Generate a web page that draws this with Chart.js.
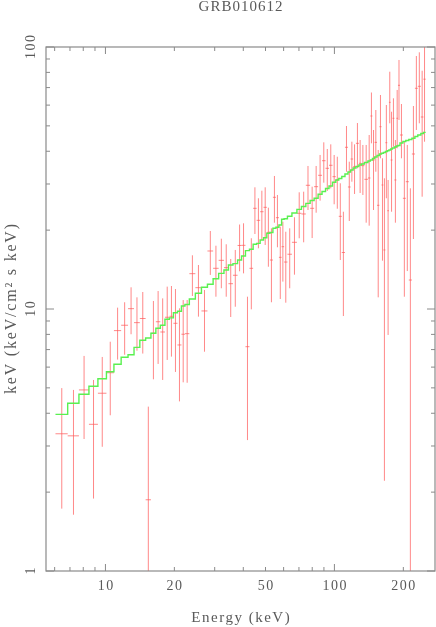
<!DOCTYPE html>
<html>
<head>
<meta charset="utf-8">
<title>GRB010612</title>
<script src="https://cdn.jsdelivr.net/npm/chart.js@4.4.0/dist/chart.umd.min.js"></script>
<style>
    body { margin: 0; background: #fff; }
    .chart_box { width: 436px; height: 627px; position: relative; }
</style>
</head>
<body>
<div class="chart_box"><canvas id="spectrum"></canvas></div>
<script>
// channel bin edges (keV), one more than the number of points
const binEdges = [
    6.05, 6.84, 7.66, 8.47, 9.27, 10.10, 10.89, 11.71, 12.55, 13.33,
    14.13, 14.98, 15.80, 16.60, 17.37, 18.19, 19.03, 19.81, 20.63, 21.47,
    22.24, 23.25, 24.70, 26.26, 27.89, 29.53, 31.22, 32.93, 34.45, 36.05,
    37.76, 39.31, 40.88, 42.56, 44.16, 45.75, 47.38, 49.03, 50.68, 52.28,
    53.88, 55.53, 57.24, 58.81, 60.30, 62.35, 65.23, 68.59, 71.78, 75.02,
    78.33, 81.55, 84.89, 88.29, 91.45, 94.72, 98.1, 101.4, 104.5, 107.7,
    111.2, 114.6, 117.7, 120.7, 124.2, 127.9, 131.1, 135.2, 140.1, 143.6,
    146.6, 149.8, 153.5, 157.2, 160.6, 163.7, 167.0, 170.2, 173.0, 176.0,
    179.3, 182.8, 186.5, 189.5, 193.4, 199.1, 205.0, 211.3, 218.0, 224.7,
    231.3, 238.5, 244.8, 250.3
];

// E F(E) in keV (keV/cm2 s keV)
const flux = [
    3.34, 3.28, 4.91, 3.63, 4.77, 5.71, 8.27, 8.67, 10.03, 8.87,
    9.20, 1.87, 8.08, 8.94, 8.17, 9.30, 9.38, 8.82, 7.29, 8.01,
    8.05, 13.64, 12.06, 9.83, 16.65, 14.30, 15.34, 14.38, 12.49, 13.45,
    17.48, 17.50, 7.18, 14.30, 24.23, 21.80, 23.51, 24.44, 19.62, 15.38,
    26.69, 22.31, 15.75, 17.29, 15.11, 16.18, 17.97, 23.19, 23.05, 29.66,
    24.23, 29.30, 32.38, 36.81, 34.44, 35.36, 31.99, 31.08, 22.58, 16.43,
    41.42, 29.22, 37.36, 34.92, 42.89, 35.98, 35.24, 31.26, 31.62, 54.53,
    37.04, 43.27, 24.88, 49.63, 29.74, 16.80, 43.12, 23.72, 61.50, 37.04,
    53.45, 31.08, 53.45, 71.42, 46.14, 26.46, 30.61, 12.90, 39.05, 69.57,
    70.79, 54.06, 75.36
];

const fluxHigh = [
    4.99, 4.91, 6.62, 5.36, 6.56, 7.50, 10.12, 10.61, 12.10, 11.08,
    11.61, 4.24, 10.73, 11.71, 10.98, 12.17, 12.24, 11.92, 10.06, 10.82,
    10.82, 16.03, 14.72, 11.82, 19.85, 17.44, 18.55, 17.66, 15.52, 16.80,
    21.01, 21.24, 11.14, 18.62, 29.14, 26.46, 28.28, 29.14, 24.36, 20.32,
    32.19, 27.24, 20.61, 21.54, 19.72, 20.32, 22.39, 27.89, 28.04, 35.14,
    29.30, 35.14, 38.71, 43.27, 40.80, 42.51, 38.71, 38.13, 30.19, 23.51,
    49.94, 36.49, 43.50, 42.51, 51.27, 44.16, 42.27, 42.27, 46.14, 67.04,
    48.22, 57.48, 40.45, 65.59, 37.60, 31.54, 60.06, 31.08, 80.48, 56.62,
    63.71, 44.16, 68.54, 89.22, 60.59, 43.50, 42.27, 28.88, 59.54, 92.38,
    95.45, 81.18, 120
];

const fluxLow = [
    1.73, 1.64, 3.19, 1.89, 2.98, 3.93, 6.41, 6.69, 8.01, 6.93,
    6.76, 0.3, 5.39, 6.17, 5.36, 6.39, 6.58, 5.75, 4.44, 5.25,
    5.23, 11.21, 9.35, 6.87, 13.49, 11.14, 12.00, 11.14, 9.32, 10.20,
    13.93, 13.68, 3.16, 9.97, 19.33, 17.05, 18.34, 17.55, 14.50, 10.61,
    21.35, 17.20, 10.92, 12.72, 10.57, 12.00, 13.52, 18.62, 17.97, 23.87,
    18.66, 23.31, 25.91, 30.35, 28.21, 28.88, 25.10, 24.14, 15.38, 9.40,
    33.42, 21.67, 30.61, 27.48, 34.44, 27.72, 27.24, 21.35, 20.80, 42.89,
    23.87, 33.42, 11.08, 37.60, 15.29, 2.21, 26.46, 7.96, 51.14, 23.51,
    41.64, 21.35, 41.06, 52.64, 37.60, 11.14, 13.96, 0.3, 18.50, 48.22,
    51.14, 26.83, 43.50
];

// folded model, one value per bin
const model = [
    3.96, 4.37, 4.73, 5.07, 5.42, 5.76, 6.15, 6.54, 6.69, 7.14,
    7.60, 7.75, 8.08, 8.44, 8.67, 9.14, 9.25, 9.68, 9.80, 10.27,
    10.4, 10.92, 11.48, 12.10, 12.43, 13.05, 13.68, 14.09, 14.72, 14.9,
    15.38, 15.93, 16.70, 16.9, 17.66, 17.8, 18.34, 18.71, 19.45, 19.6,
    20.32, 20.5, 20.92, 22.00, 22.1, 22.6, 23.25, 24.0, 24.61, 25.31,
    25.95, 26.46, 27.41, 28.09, 28.84, 29.48, 30.45, 31.08, 31.49, 32.05,
    32.76, 33.34, 33.93, 34.53, 34.99, 35.45, 35.77, 36.24, 36.72, 37.04,
    37.53, 38.04, 38.54, 39.05, 39.29, 39.57, 39.91, 40.17, 40.45, 40.80,
    41.16, 41.52, 41.89, 42.07, 43.01, 43.59, 43.97, 44.36, 44.83, 45.55,
    46.14, 46.75, 47.24
];

const xMajorTicks = [10, 100];
const xMinorTicks = [6, 7, 8, 9, 20, 30, 40, 50, 60, 70, 80, 90, 200];
const xTickLabels = [10, 20, 50, 100, 200];
const yMajorTicks = [1, 10, 100];
const yMinorTicks = [2, 3, 4, 5, 6, 7, 8, 9, 20, 30, 40, 50, 60, 70, 80, 90];
const yTickLabels = [1, 10, 100];

const FONT = '"Liberation Serif", "DejaVu Serif", serif';
const TEXT_COLOR = '#5a5a5a';
const AXIS_COLOR = '#8a8a8a';

const points = flux.map((f, i) => ({
    x: (binEdges[i] + binEdges[i + 1]) / 2,
    y: f,
    xMin: binEdges[i],
    xMax: binEdges[i + 1],
    yMin: fluxLow[i],
    yMax: fluxHigh[i]
}));

const modelSteps = [];
model.forEach((m, i) => {
    modelSteps.push({ x: binEdges[i], y: m });
    modelSteps.push({ x: binEdges[i + 1], y: m });
});

const errorBars = {
    id: 'errorBars',
    beforeDatasetsDraw(chart) {
        const { ctx, chartArea, scales: { x, y } } = chart;
        ctx.save();
        ctx.beginPath();
        ctx.rect(chartArea.left, chartArea.top, chartArea.right - chartArea.left, chartArea.bottom - chartArea.top);
        ctx.clip();
        ctx.strokeStyle = 'rgba(255, 90, 90, 0.72)';
        ctx.lineWidth = 1;
        chart.data.datasets[0].data.forEach(p => {
            const px = x.getPixelForValue(p.x);
            const py = y.getPixelForValue(p.y);
            ctx.beginPath();
            ctx.moveTo(x.getPixelForValue(p.xMin), py);
            ctx.lineTo(x.getPixelForValue(p.xMax), py);
            ctx.moveTo(px, y.getPixelForValue(p.yMin));
            ctx.lineTo(px, y.getPixelForValue(p.yMax));
            ctx.stroke();
        });
        ctx.restore();
    }
};

const spacedText = (ctx, text, x, y, spacing) => {
    ctx.letterSpacing = spacing + 'px';
    ctx.fillText(text, x + spacing / 2, y);
    ctx.letterSpacing = '0px';
};

const frameAndLabels = {
    id: 'frameAndLabels',
    afterDraw(chart) {
        const { ctx, chartArea: area, scales: { x, y } } = chart;
        ctx.save();
        ctx.strokeStyle = AXIS_COLOR;
        ctx.lineWidth = 1.2;
        ctx.strokeRect(area.left, area.top, area.right - area.left, area.bottom - area.top);

        ctx.lineWidth = 1;
        ctx.beginPath();
        const xTick = (v, len) => {
            const px = x.getPixelForValue(v);
            ctx.moveTo(px, area.bottom);
            ctx.lineTo(px, area.bottom - len);
            ctx.moveTo(px, area.top);
            ctx.lineTo(px, area.top + len);
        };
        const yTick = (v, len) => {
            const py = y.getPixelForValue(v);
            ctx.moveTo(area.left, py);
            ctx.lineTo(area.left + len, py);
            ctx.moveTo(area.right, py);
            ctx.lineTo(area.right - len, py);
        };
        xMajorTicks.forEach(v => xTick(v, 7));
        xMinorTicks.forEach(v => xTick(v, 4));
        yMajorTicks.forEach(v => yTick(v, 8));
        yMinorTicks.forEach(v => yTick(v, 4));
        ctx.stroke();

        ctx.fillStyle = TEXT_COLOR;
        ctx.textAlign = 'center';
        ctx.textBaseline = 'middle';

        ctx.font = '14px ' + FONT;
        xTickLabels.forEach(v => {
            spacedText(ctx, String(v), x.getPixelForValue(v), 586, 1.5);
        });
        yTickLabels.forEach(v => {
            ctx.save();
            ctx.translate(31, y.getPixelForValue(v));
            ctx.rotate(-Math.PI / 2);
            spacedText(ctx, String(v), 0, 0, 1.5);
            ctx.restore();
        });

        const midX = (area.left + area.right) / 2;
        ctx.font = '15px ' + FONT;
        spacedText(ctx, 'GRB010612', midX, 7, 1);

        ctx.font = '15px ' + FONT;
        spacedText(ctx, 'Energy (keV)', midX, 618, 1.5);

        ctx.save();
        ctx.translate(12, (area.top + area.bottom) / 2);
        ctx.rotate(-Math.PI / 2);
        ctx.font = '16px ' + FONT;
        spacedText(ctx, 'keV (keV/cm\u00b2 s keV)', 0, 0, 1.8);
        ctx.restore();

        ctx.restore();
    }
};

new Chart(document.getElementById('spectrum').getContext('2d'), {
    type: 'scatter',
    data: {
        datasets: [
            {
                label: 'data',
                data: points,
                pointRadius: 0,
                showLine: false
            },
            {
                label: 'model',
                data: modelSteps,
                showLine: true,
                borderColor: 'rgb(90, 240, 80)',
                borderWidth: 1.4,
                pointRadius: 0,
                fill: false
            }
        ]
    },
    options: {
        responsive: true,
        maintainAspectRatio: false,
        animation: false,
        layout: { padding: { left: 46, top: 47, right: 1, bottom: 56 } },
        scales: {
            x: { type: 'logarithmic', min: 5.5, max: 275, display: false },
            y: { type: 'logarithmic', min: 1, max: 100, display: false }
        },
        plugins: {
            legend: { display: false },
            tooltip: { enabled: false }
        }
    },
    plugins: [errorBars, frameAndLabels]
});
</script>
</body>
</html>
